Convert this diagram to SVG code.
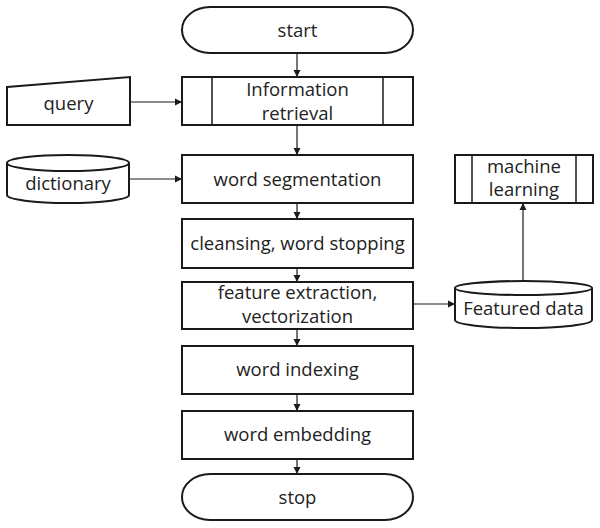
<svg xmlns="http://www.w3.org/2000/svg" width="600" height="528" viewBox="0 0 600 528">
<defs>
<marker id="ah" markerWidth="8" markerHeight="8" refX="7" refY="4" orient="auto" markerUnits="userSpaceOnUse">
<path d="M0,0.5 L7,4 L0,7.5 Z" fill="#1a1a1a"/>
</marker>
<style>
.n{fill:#fff;stroke:#1a1a1a;stroke-width:2}
.l{fill:none;stroke:#1a1a1a;stroke-width:1.5}
.c{stroke:#1a1a1a;stroke-width:1.2;fill:none;marker-end:url(#ah)}
text{font-family:"Open Sans","Liberation Sans",sans-serif;font-size:18.5px;fill:#222;text-anchor:middle}
</style>
</defs>
<rect width="600" height="528" fill="#fff"/>
<g id="connectors">
<line class="c" x1="297" y1="53" x2="297" y2="77"/>
<line class="c" x1="130" y1="102" x2="182" y2="102"/>
<line class="c" x1="297" y1="125" x2="297" y2="155"/>
<line class="c" x1="129" y1="179" x2="182" y2="179"/>
<line class="c" x1="297" y1="203" x2="297" y2="219"/>
<line class="c" x1="297" y1="268" x2="297" y2="282"/>
<line class="c" x1="413" y1="304" x2="455" y2="304"/>
<line class="c" x1="523" y1="281" x2="523" y2="203"/>
<line class="c" x1="297" y1="329" x2="297" y2="346"/>
<line class="c" x1="297" y1="394" x2="297" y2="411"/>
<line class="c" x1="297" y1="459" x2="297" y2="474"/>
</g>
<g id="start">
<rect class="n" x="182" y="7" width="231" height="46" rx="28" ry="23"/>
<text x="297.5" y="37">start</text>
</g>
<g id="info">
<rect class="n" x="182" y="77" width="231" height="48"/>
<line class="l" x1="212" y1="77" x2="212" y2="125"/>
<line class="l" x1="383" y1="77" x2="383" y2="125"/>
<text x="297.5" y="96">Information</text>
<text x="297.5" y="120">retrieval</text>
</g>
<g id="query">
<path class="n" d="M7,87 L130,77 L130,125 L7,125 Z"/>
<text x="68.5" y="110">query</text>
</g>
<g id="dictionary">
<path class="n" d="M7,163 L7,195 A61,8 0 0 0 129,195 L129,163"/>
<ellipse class="n" cx="68" cy="163" rx="61" ry="8"/>
<text x="68" y="190">dictionary</text>
</g>
<g id="segmentation">
<rect class="n" x="182" y="155" width="231" height="48"/>
<text x="297.5" y="186">word segmentation</text>
</g>
<g id="cleansing">
<rect class="n" x="182" y="219" width="231" height="49"/>
<text x="297.5" y="250">cleansing, word stopping</text>
</g>
<g id="feature">
<rect class="n" x="182" y="282" width="231" height="47"/>
<text x="297.5" y="299">feature extraction,</text>
<text x="297.5" y="323">vectorization</text>
</g>
<g id="indexing">
<rect class="n" x="182" y="346" width="231" height="48"/>
<text x="297.5" y="376">word indexing</text>
</g>
<g id="embedding">
<rect class="n" x="182" y="411" width="231" height="48"/>
<text x="297.5" y="441">word embedding</text>
</g>
<g id="stop">
<rect class="n" x="182" y="474" width="231" height="46" rx="28" ry="23"/>
<text x="297.5" y="504">stop</text>
</g>
<g id="machine">
<rect class="n" x="455" y="155" width="138" height="48"/>
<line class="l" x1="472" y1="155" x2="472" y2="203"/>
<line class="l" x1="576" y1="155" x2="576" y2="203"/>
<text x="524" y="173">machine</text>
<text x="524" y="196">learning</text>
</g>
<g id="featured">
<path class="n" d="M455,288 L455,320 A68.5,8 0 0 0 592,320 L592,288"/>
<ellipse class="n" cx="523.5" cy="288" rx="68.5" ry="7"/>
<text x="523.5" y="315">Featured data</text>
</g>
</svg>
